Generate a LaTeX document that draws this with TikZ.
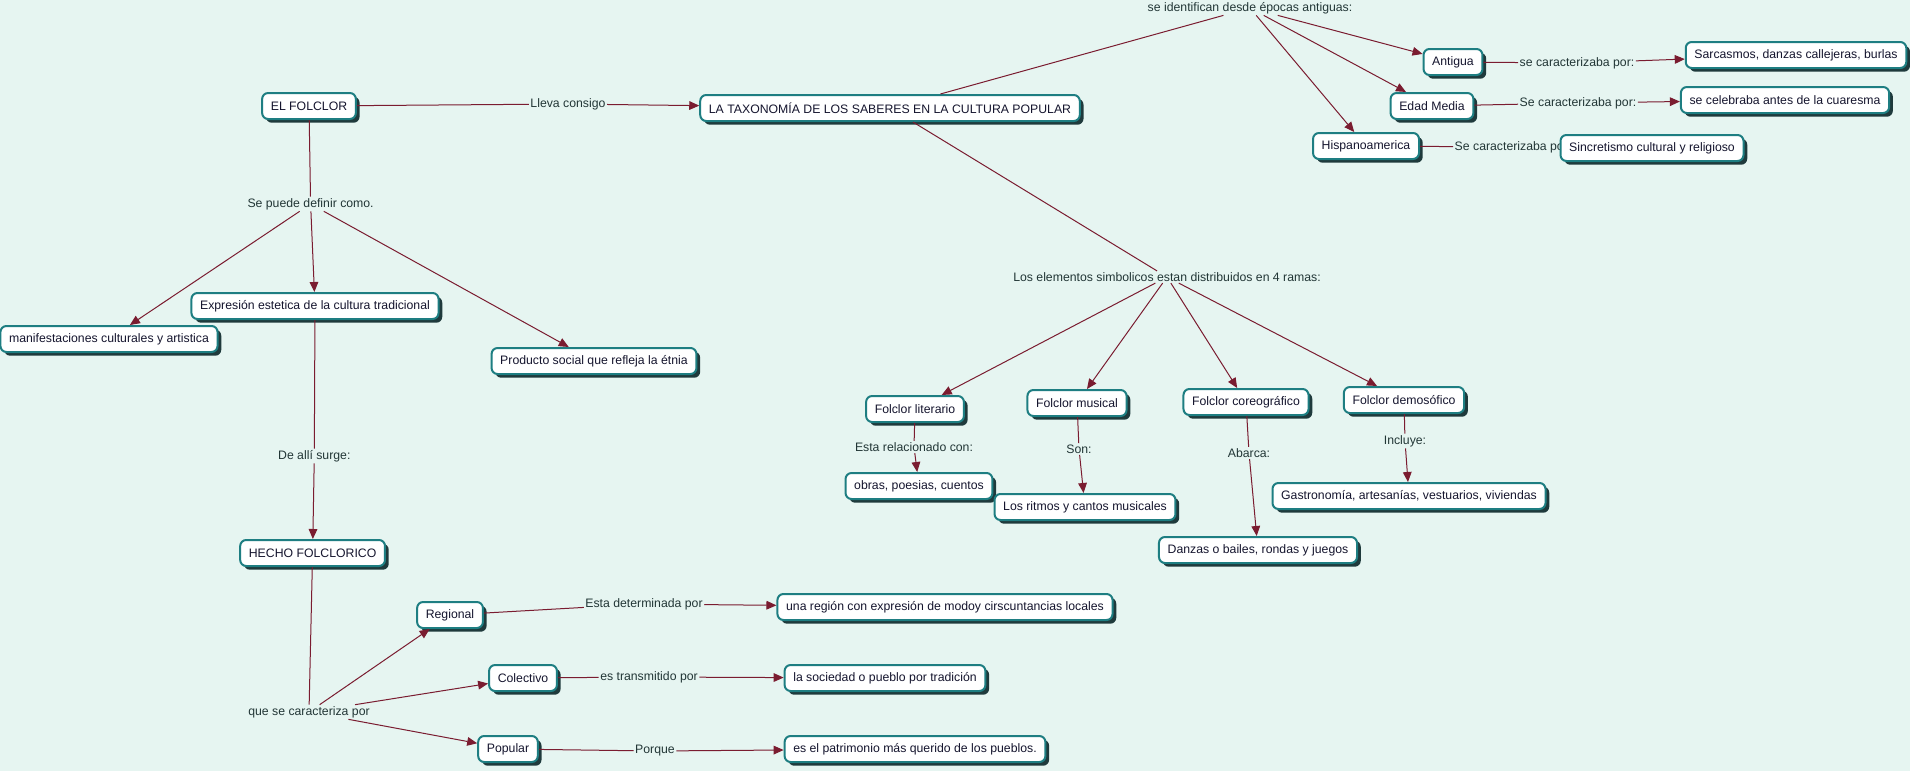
\documentclass[tikz,border=0pt]{standalone}
\usepackage{fontspec}
\setmainfont{Liberation Sans}
\usetikzlibrary{arrows.meta, shadows}
\definecolor{mapbg}{HTML}{E6F5F1}
\definecolor{conceptborder}{HTML}{1E7E82}
\definecolor{conceptshadow}{HTML}{1F3A3C}
\definecolor{linkred}{HTML}{7A1C30}
\definecolor{concepttext}{HTML}{15152E}
\definecolor{phrasetext}{HTML}{223636}
\begin{document}
\begin{tikzpicture}[x=0.75pt, y=-0.75pt,
		concept/.style={draw=conceptborder, line width=1.5pt, fill=white, rounded corners=4.5pt,
			inner xsep=6.5pt, inner ysep=2pt, minimum height=19.5pt, text=concepttext,
			font=\fontsize{9.2}{11}\selectfont,
			drop shadow={shadow xshift=2.8pt, shadow yshift=-2.8pt, fill=conceptshadow, opacity=1}},
		phrase/.style={inner sep=1pt, text=phrasetext, font=\fontsize{9.2}{11}\selectfont},
		link/.style={draw=linkred, line width=0.75pt},
		linkarrow/.style={link, -{Triangle[length=7.5pt, width=6.5pt]}}]
		\useasboundingbox (0,0) rectangle (1910,771);
		\fill[mapbg] (0,0) rectangle (1910,771);
		
		\node[concept] (folclor) at (309,106) {EL FOLCLOR};
		\node[phrase] (lleva) at (568,104) {Lleva consigo};
		\node[concept] (taxonomia) at (890,108) {LA TAXONOMÍA DE LOS SABERES EN LA CULTURA POPULAR};
		\node[phrase] (identifican) at (1250,8) {se identifican desde épocas antiguas:};
		\node[concept] (antigua) at (1453,62) {Antigua};
		\node[concept] (edad) at (1432,106) {Edad Media};
		\node[concept] (hispano) at (1366,146) {Hispanoamerica};
		\node[phrase] (caract1) at (1577,63) {se caracterizaba por:};
		\node[phrase] (caract2) at (1578,103) {Se caracterizaba por:};
		\node[phrase] (caract3) at (1513,147) {Se caracterizaba por:};
		\node[concept] (sarcasmos) at (1796,55) {Sarcasmos, danzas callejeras, burlas};
		\node[concept] (celebraba) at (1785,100) {se celebraba antes de la cuaresma};
		\node[concept] (sincretismo) at (1652,148) {Sincretismo cultural y religioso};
		
		\node[phrase] (definir) at (310.6,204) {Se puede definir como.};
		\node[concept] (manifest) at (109,339) {manifestaciones culturales y artistica};
		\node[concept] (expresion) at (315,306) {Expresión estetica de la cultura tradicional};
		\node[concept] (producto) at (594,361) {Producto social que refleja la étnia};
		\node[phrase] (surge) at (314.3,456) {De allí surge:};
		\node[concept] (hecho) at (312.6,553) {HECHO FOLCLORICO};
		\node[phrase] (caracteriza) at (309,712) {que se caracteriza por};
		\node[concept] (regional) at (450,615) {Regional};
		\node[concept] (colectivo) at (523,678) {Colectivo};
		\node[concept] (popular) at (508,749) {Popular};
		\node[phrase] (determinada) at (644,604) {Esta determinada por};
		\node[phrase] (transmitido) at (649,677) {es transmitido por};
		\node[phrase] (porque) at (655,751) {Porque};
		\node[concept] (region) at (945,607) {una región con expresión de modoy cirscuntancias locales};
		\node[concept] (sociedad) at (885,678) {la sociedad o pueblo por tradición};
		\node[concept] (patrimonio) at (915,749) {es el patrimonio más querido de los pueblos.};
		
		\node[phrase] (elementos) at (1167,277) {Los elementos simbolicos estan distribuidos en 4 ramas:};
		\node[concept] (literario) at (915,409) {Folclor literario};
		\node[concept] (musical) at (1077,403) {Folclor musical};
		\node[concept] (coreografico) at (1246,402) {Folclor coreográfico};
		\node[concept] (demosofico) at (1404,400) {Folclor demosófico};
		\node[phrase] (relacionado) at (914,447) {Esta relacionado con:};
		\node[phrase] (son) at (1079,449) {Son:};
		\node[phrase] (abarca) at (1249,453) {Abarca:};
		\node[phrase] (incluye) at (1405,441) {Incluye:};
		\node[concept] (obras) at (919,486) {obras, poesias, cuentos};
		\node[concept] (ritmos) at (1085,507) {Los ritmos y cantos musicales};
		\node[concept] (danzas) at (1258,550) {Danzas o bailes, rondas y juegos};
		\node[concept] (gastronomia) at (1409,496) {Gastronomía, artesanías, vestuarios, viviendas};
		
		\draw[link] (folclor) -- (lleva);
		\draw[linkarrow] (lleva) -- (taxonomia);
		\draw[link] (taxonomia) -- (identifican);
		\draw[linkarrow] (identifican) -- (antigua);
		\draw[linkarrow] (identifican) -- (edad);
		\draw[linkarrow] (identifican) -- (hispano);
		\draw[link] (antigua) -- (caract1);
		\draw[linkarrow] (caract1) -- (sarcasmos);
		\draw[link] (edad) -- (caract2);
		\draw[linkarrow] (caract2) -- (celebraba);
		\draw[link] (hispano) -- (caract3);
		
		\draw[link] (folclor) -- (definir);
		\draw[linkarrow] (definir) -- (manifest);
		\draw[linkarrow] (definir) -- (expresion);
		\draw[linkarrow] (definir) -- (producto);
		\draw[link] (expresion) -- (surge);
		\draw[linkarrow] (surge) -- (hecho);
		\draw[link] (hecho) -- (caracteriza);
		\draw[linkarrow] (caracteriza) -- (regional);
		\draw[linkarrow] (caracteriza) -- (colectivo);
		\draw[linkarrow] (caracteriza) -- (popular);
		\draw[link] (regional) -- (determinada);
		\draw[linkarrow] (determinada) -- (region);
		\draw[link] (colectivo) -- (transmitido);
		\draw[linkarrow] (transmitido) -- (sociedad);
		\draw[link] (popular) -- (porque);
		\draw[linkarrow] (porque) -- (patrimonio);
		
		\draw[link] (taxonomia) -- (elementos);
		\draw[linkarrow] (elementos) -- (literario);
		\draw[linkarrow] (elementos) -- (musical);
		\draw[linkarrow] (elementos) -- (coreografico);
		\draw[linkarrow] (elementos) -- (demosofico);
		\draw[link] (literario) -- (relacionado);
		\draw[linkarrow] (relacionado) -- (obras);
		\draw[link] (musical) -- (son);
		\draw[linkarrow] (son) -- (ritmos);
		\draw[link] (coreografico) -- (abarca);
		\draw[linkarrow] (abarca) -- (danzas);
		\draw[link] (demosofico) -- (incluye);
		\draw[linkarrow] (incluye) -- (gastronomia);
	\end{tikzpicture}
\end{document}
